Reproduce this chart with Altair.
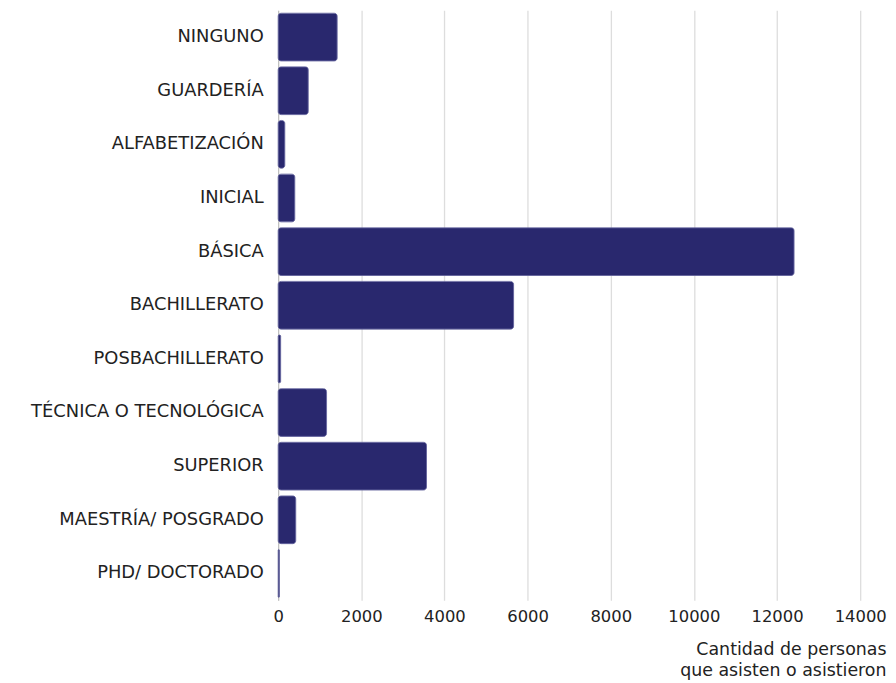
import altair as alt
import pandas as pd

categories = ["NINGUNO", "GUARDERÍA", "ALFABETIZACIÓN", "INICIAL", "BÁSICA",
              "BACHILLERATO", "POSBACHILLERATO", "TÉCNICA O TECNOLÓGICA",
              "SUPERIOR", "MAESTRÍA/ POSGRADO", "PHD/ DOCTORADO"]
values = [1420, 724, 160, 400, 12410, 5663, 60, 1164, 3568, 423, 30]
x_ticks = [0, 2000, 4000, 6000, 8000, 10000, 12000, 14000]

df = pd.DataFrame({"cat": categories, "val": values})

FONT = "DejaVu Sans"

chart = alt.Chart(df).mark_bar(
    color="#29286e", cornerRadius=3, stroke="#5a5a96", strokeWidth=0.8
).encode(
    y=alt.Y("cat:N", sort=categories,
            scale=alt.Scale(paddingInner=0.11, paddingOuter=0.055),
            axis=alt.Axis(title=None, ticks=False, labelFontSize=18,
                          labelColor="#222222", labelFont=FONT, labelPadding=15,
                          domainColor="#bbbbbb", grid=False, labelLimit=400)),
    x=alt.X("val:Q", scale=alt.Scale(domain=[0, 14000], nice=False),
            axis=alt.Axis(values=x_ticks, format="d", ticks=False, domain=False,
                          labelFlush=False,
                          gridColor="#dddddd", gridWidth=1.3,
                          labelFontSize=16.5, labelColor="#222222", labelFont=FONT,
                          labelPadding=8,
                          title=["Cantidad de personas", "que asisten o asistieron"],
                          titleFont=FONT, titleFontSize=17.5, titleFontWeight="normal",
                          titleColor="#222222", titleAlign="right", titleAnchor="end",
                          titleX=612, titleY=41, titleLineHeight=21)),
).properties(
    width=586, height=594,
    autosize=alt.AutoSizeParams(type="none"),
    padding={"left": 272, "top": 0, "right": 28, "bottom": 78},
).configure_view(stroke=None)

chart.save("out.html", embed_options={"renderer": "svg", "actions": False})
